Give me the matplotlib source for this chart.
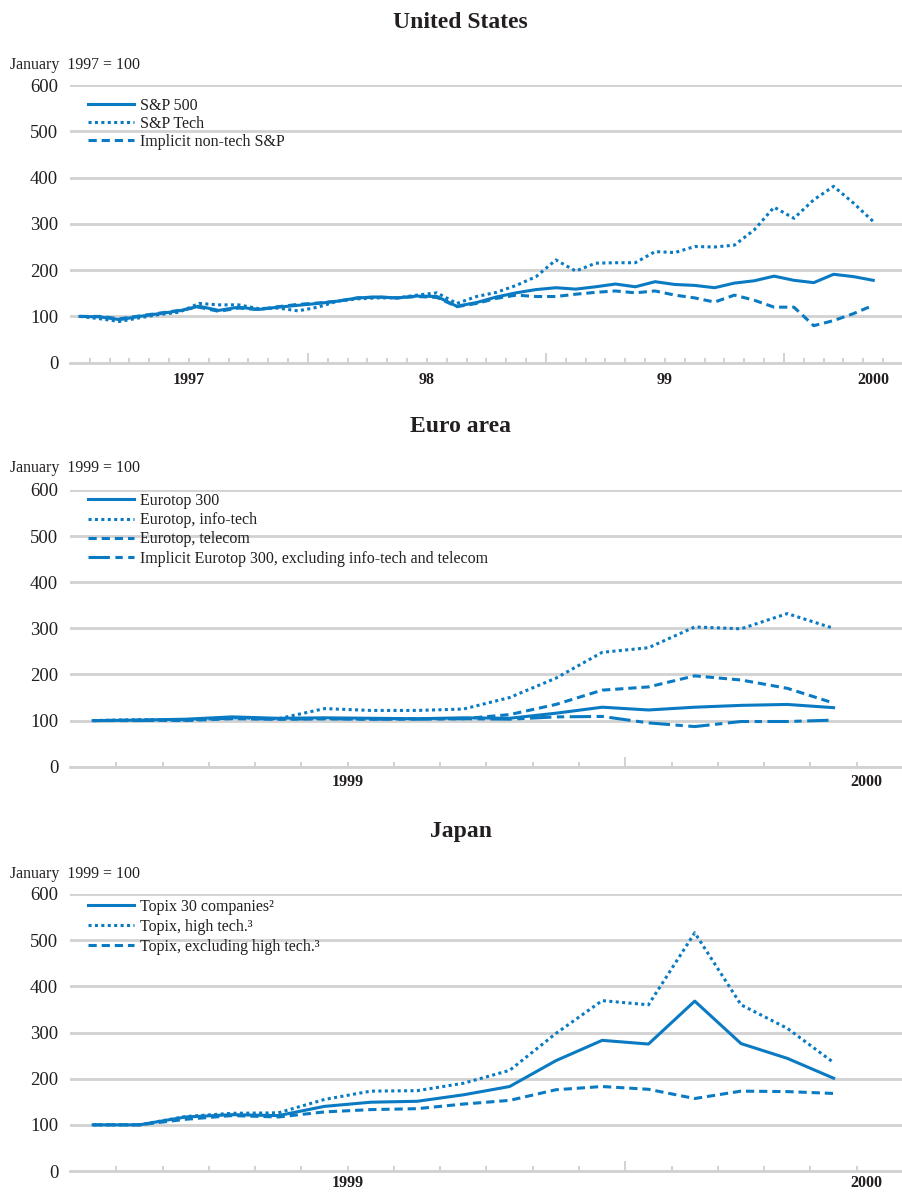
import numpy as np
import matplotlib.pyplot as plt

plt.rcParams['font.family'] = ['Liberation Serif', 'DejaVu Serif']

BLUE = '#0a7bc2'
GRID = '#d2d2d2'
TXT = '#231f20'

# === United States: monthly, Jan 1997 - May 2000 (January 1997 = 100) === #
us_sp500 = [100, 99, 93, 100, 106, 112, 122, 113, 120, 115, 120, 124, 128, 133,
            140, 142, 140, 144, 143, 122, 130, 142, 151, 158, 162, 159, 164, 170,
            164, 175, 169, 167, 162, 172, 177, 187, 178, 173, 191, 186, 178]
us_tech = [100, 95, 89, 97, 104, 109, 128, 125, 125, 117, 118, 112, 120, 133,
           138, 140, 140, 146, 151, 128, 143, 152, 167, 186, 222, 198, 215, 216,
           216, 240, 238, 251, 250, 254, 287, 336, 312, 352, 381, 345, 305]
us_nontech = [100, 100, 95, 101, 107, 113, 120, 111, 118, 115, 121, 126, 129, 133,
              140, 142, 140, 143, 141, 121, 128, 139, 146, 143, 143, 148, 152, 155,
              151, 155, 146, 140, 131, 146, 135, 120, 120, 80, 91, 106, 124]
us_years = ['1997', '98', '99', '2000']
us_year_pos = [6, 18, 30, 40.5]

# === Euro area: monthly, Jan 1999 - May 2000 (January 1999 = 100) === #
eu_300 = [100, 101, 103, 108, 105, 106, 105, 104, 106, 105, 116, 129, 123, 129,
          133, 135, 128]
eu_infotech = [100, 102, 101, 106, 104, 126, 122, 122, 125, 150, 192, 248, 258,
               303, 299, 332, 300]
eu_telecom = [100, 101, 100, 104, 103, 104, 103, 104, 104, 113, 135, 166, 173,
              197, 188, 170, 138]
eu_implicit = [100, 100, 102, 105, 103, 104, 103, 103, 104, 103, 108, 109, 95,
               87, 98, 98, 101]
eu_years = ['1999', '2000']
eu_year_pos = [6, 17.2]

# === Japan: monthly, Jan 1999 - May 2000 (January 1999 = 100) === #
jp_topix30 = [100, 100, 117, 122, 120, 140, 149, 151, 165, 183, 239, 283, 275,
              368, 276, 244, 201]
jp_hightech = [100, 100, 118, 125, 126, 155, 173, 174, 190, 218, 298, 369, 360,
               516, 360, 309, 235]
jp_exhightech = [100, 100, 112, 120, 117, 128, 133, 135, 145, 153, 176, 183, 177,
                 157, 173, 172, 168]

DOT = (0, (1, 1.1))
DASH = (0, (2.7, 1.6))
DASHDOT = (0, (7, 1.8, 2.4, 1.8))


def style_axes(ax, n_months, xmax, year_bounds, years, year_pos, label_y):
    ax.set_ylim(0, 600)
    ax.set_yticks(range(0, 601, 100))
    ax.set_xlim(0, xmax)
    ax.grid(axis='y', color=GRID, linewidth=2)
    ax.set_axisbelow(True)
    for side in ['top', 'left', 'right']:
        ax.spines[side].set_visible(False)
    ax.spines['bottom'].set_color(GRID)
    ax.spines['bottom'].set_linewidth(2)
    ax.tick_params(axis='y', length=0, pad=8.5, labelsize=13.5, labelcolor=TXT)
    ax.set_xticks(year_bounds)
    ax.set_xticks(np.arange(1, n_months + 2), minor=True)
    ax.tick_params(axis='x', which='major', direction='in', length=7.5,
                   width=1.4, color=GRID, labelbottom=False)
    ax.tick_params(axis='x', which='minor', direction='in', length=3.8,
                   width=1.4, color=GRID)
    for lab, pos in zip(years, year_pos):
        ax.text(pos, label_y, lab, transform=ax.get_xaxis_transform(),
                ha='center', va='center', fontsize=11.5, fontweight='bold',
                color=TXT)


fig = plt.figure(figsize=(9.03, 11.92), dpi=100)
left, width = 70 / 903, 833 / 903

# --- United States --- #
ax1 = fig.add_axes([left, 1 - 362.7 / 1192, width, 277.7 / 1192])
x_us = np.arange(len(us_sp500)) + 0.5
ax1.plot(x_us, us_sp500, color=BLUE, lw=2.2, label='S&P 500')
ax1.plot(x_us, us_tech, color=BLUE, lw=2.2, ls=DOT, label='S&P Tech')
ax1.plot(x_us, us_nontech, color=BLUE, lw=2.2, ls=DASH, label='Implicit non-tech S&P')
style_axes(ax1, len(us_sp500), 833 / 20, [12, 24, 36], us_years, us_year_pos, -0.062)

# --- Euro area --- #
ax2 = fig.add_axes([left, 1 - 766.7 / 1192, width, 276.7 / 1192])
x_eu = np.arange(len(eu_300)) + 0.5
ax2.plot(x_eu, eu_300, color=BLUE, lw=2.2, label='Eurotop 300')
ax2.plot(x_eu, eu_infotech, color=BLUE, lw=2.2, ls=DOT, label='Eurotop, info-tech')
ax2.plot(x_eu, eu_telecom, color=BLUE, lw=2.2, ls=DASH, label='Eurotop, telecom')
ax2.plot(x_eu, eu_implicit, color=BLUE, lw=2.2, ls=DASHDOT,
         label='Implicit Eurotop 300, excluding info-tech and telecom')
style_axes(ax2, len(eu_300), 833 / 46.6, [12], eu_years, eu_year_pos, -0.054)

# --- Japan --- #
ax3 = fig.add_axes([left, 1 - 1171 / 1192, width, 277 / 1192])
x_jp = np.arange(len(jp_topix30)) + 0.5
ax3.plot(x_jp, jp_topix30, color=BLUE, lw=2.2, label='Topix 30 companies²')
ax3.plot(x_jp, jp_hightech, color=BLUE, lw=2.2, ls=DOT, label='Topix, high tech.³')
ax3.plot(x_jp, jp_exhightech, color=BLUE, lw=2.2, ls=DASH,
         label='Topix, excluding high tech.³')
style_axes(ax3, len(jp_topix30), 833 / 46.6, [12], eu_years, eu_year_pos, -0.043)

for ax, top, spacing in [(ax1, 0.953, 0.12), (ax2, 0.989, 0.2), (ax3, 0.982, 0.25)]:
    leg = ax.legend(loc='upper left', bbox_to_anchor=(0.0216, top), frameon=False,
                    fontsize=11.5, handlelength=2.85, handletextpad=0.4,
                    labelspacing=spacing, borderpad=0, borderaxespad=0)
    for t in leg.get_texts():
        t.set_color(TXT)

# Titles and base notes
for y, title in [(22, 'United States'), (427, 'Euro area'), (831, 'Japan')]:
    fig.text(0.51, 1 - y / 1192, title, ha='center', va='center',
             fontsize=17, fontweight='bold', color=TXT)
for y, note in [(65, 'January  1997 = 100'), (468, 'January  1999 = 100'),
                (874, 'January  1999 = 100')]:
    fig.text(10 / 903, 1 - y / 1192, note, ha='left', va='center',
             fontsize=11.4, color=TXT)

plt.savefig('out.png', dpi=100)
